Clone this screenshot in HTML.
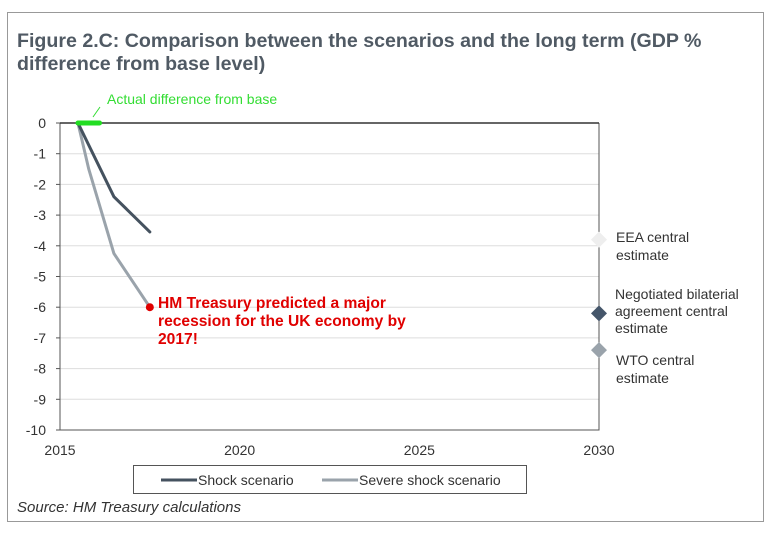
<!DOCTYPE html>
<html><head><meta charset="utf-8"><style>
body{margin:0;background:#fff;width:774px;height:558px;overflow:hidden;font-family:"Liberation Sans",sans-serif}
</style></head><body>
<svg width="774" height="558" style="position:absolute;left:0;top:0">
<rect x="7.5" y="12.5" width="756" height="509" fill="#fff" stroke="#999"/>
<text x="17" y="47" font-size="19.6" font-weight="bold" fill="#505a64">Figure 2.C: Comparison between the scenarios and the long term (GDP %</text>
<text x="17" y="70" font-size="19.6" font-weight="bold" fill="#505a64">difference from base level)</text>
<g id="grid"></g><g id="axes"></g><g id="marks"></g>
<text x="107" y="104" font-size="14" fill="#33dd33">Actual difference from base</text>
<line x1="93" y1="117" x2="100" y2="107" stroke="#33dd33" stroke-width="1"/>
<text x="158" y="308" font-size="15.6" font-weight="bold" fill="#e00000"><tspan x="158">HM Treasury predicted a major</tspan><tspan x="158" dy="18">recession for the UK economy by</tspan><tspan x="158" dy="18">2017!</tspan></text>
<g font-size="14" fill="#333">
<text x="616" y="242">EEA central</text><text x="616" y="260">estimate</text>
<text x="615" y="299">Negotiated bilaterial</text><text x="615" y="316">agreement central</text><text x="615" y="333">estimate</text>
<text x="616" y="365">WTO central</text><text x="616" y="383">estimate</text>
</g>
<rect x="133.5" y="465.5" width="393" height="28" fill="#fff" stroke="#555"/>
<line x1="161" y1="480" x2="197" y2="480" stroke="#45525f" stroke-width="3"/>
<text x="198" y="485" font-size="14" fill="#333">Shock scenario</text>
<line x1="322" y1="480" x2="358" y2="480" stroke="#9aa3ab" stroke-width="3"/>
<text x="359" y="485" font-size="14" fill="#333">Severe shock scenario</text>
<text x="17" y="512" font-size="15" font-style="italic" fill="#333">Source: HM Treasury calculations</text>
</svg>
<script>
const yTicks=[0,-1,-2,-3,-4,-5,-6,-7,-8,-9,-10];
const xTicks=[2015,2020,2025,2030];
const shockYears=[2015.5,2016.5,2017.5];
const shockVals=[0,-2.4,-3.55];
const severeYears=[2015.5,2015.8,2016.5,2017.5];
const severeVals=[0,-1.5,-4.25,-6];
const actualYears=[2015.5,2016.1];
const actualVals=[0,0];
const estNames=['EEA','Bilateral','WTO'];
const estVals=[-3.8,-6.2,-7.4];
const estYear=2030;
const X0=60,X1=599,Y0=123,Y1=430;
const xs=v=>X0+(v-2015)/(2030-2015)*(X1-X0);
const ys=v=>Y0+(0-v)/10*(Y1-Y0);
const NS='http://www.w3.org/2000/svg';
function mk(t,a,p){const e=document.createElementNS(NS,t);for(const k in a)e.setAttribute(k,a[k]);document.getElementById(p).appendChild(e);return e;}
yTicks.forEach(v=>{
 const y=ys(v);
 if(v!==0&&v!==-10){const g=mk('line',{x1:X0,x2:X1,y1:y,y2:y,stroke:'#ddd'},'grid');
 
 }
 const tk=mk('line',{x1:X0-4,x2:X0,y1:y,y2:y,stroke:'#555'},'axes');
 
 
 const t=mk('text',{x:X0-14,y:y+5,'font-size':14,fill:'#333','text-anchor':'end'},'axes');t.textContent=v;
 
 
});
xTicks.forEach(v=>{const t=mk('text',{x:xs(v),y:455,'font-size':14,fill:'#333','text-anchor':'middle'},'axes');t.textContent=v;
 
 });
let a=mk('path',{d:`M${X0} ${Y0}V${Y1}H${X1}V${Y0}`,fill:'none',stroke:'#555'},'axes');


a=mk('line',{x1:X0,x2:X1,y1:ys(0),y2:ys(0),stroke:'#333','stroke-width':1.5},'axes');


function line(xa,va,col,w,name){const d=xa.map((x,i)=>(i?'L':'M')+xs(x)+' '+ys(va[i])).join('');
 const p=mk('path',{d:d,fill:'none',stroke:col,'stroke-width':w,'stroke-linecap':'round'},'marks');
 
 }
line(severeYears,severeVals,'#9aa3ab',3,'severe-shock-line');
line(shockYears,shockVals,'#45525f',3,'shock-line');
line(actualYears,actualVals,'#22dd22',5,'actual-line');
const last=severeVals.length-1;
const dot=mk('circle',{cx:xs(severeYears[last]),cy:ys(severeVals[last]),r:4,fill:'#e00000'},'marks');


const estCols=['#eeeeee','#45566a','#9aa3ab'];
estVals.forEach((v,i)=>{const cx=xs(estYear),cy=ys(v),r=8;
 const d=mk('path',{d:`M${cx} ${cy-r}L${cx+r} ${cy}L${cx} ${cy+r}L${cx-r} ${cy}Z`,fill:estCols[i]},'marks');
 
 });
</script>
</body></html>
